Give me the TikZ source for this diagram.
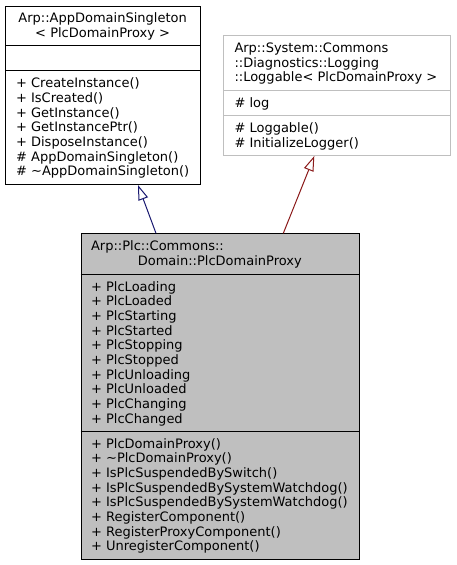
\documentclass[tikz,border=0pt]{standalone}
\usepackage{fontspec}
\setmainfont{DejaVu Sans}
\usetikzlibrary{arrows.meta,calc}
\definecolor{navyedge}{HTML}{191970}
\definecolor{rededge}{HTML}{8B1A1A}
\definecolor{boxgray}{HTML}{BFBFBF}
\definecolor{lightborder}{HTML}{BFBFBF}
\begin{document}
\begin{tikzpicture}[x=1pt,y=-1pt,line width=1pt,
  box/.style={draw,rectangle,inner sep=0pt,anchor=north west,line width=1pt},
  txt/.style={anchor=base west,inner sep=0pt,font=\fontsize{13}{14.7}\selectfont},
  ctxt/.style={anchor=base,inner sep=0pt,font=\fontsize{13}{14.7}\selectfont},
  inherit/.style={-{Triangle[open,fill=white,length=15pt,width=10pt]},line width=1pt}]
\useasboundingbox (0,0) rectangle (456,565);

% Box 1: AppDomainSingleton
\node[box,fill=white,minimum width=194.8pt,minimum height=178.3pt] (single) at (5.2,5.7) {};
\draw (single.west |- 0,45.7) -- (single.east |- 0,45.7);
\draw (single.west |- 0,70.7) -- (single.east |- 0,70.7);
\node[ctxt] (s1) at (102.6,22.7) {Arp::AppDomainSingleton};
\node[ctxt] (s2) at (102.6,37.4) {< PlcDomainProxy >};
\foreach \t [count=\i from 0] in {+ CreateInstance(),+ IsCreated(),+ GetInstance(),+ GetInstancePtr(),+ DisposeInstance(),\# AppDomainSingleton(),\# \textasciitilde AppDomainSingleton()}
  \node[txt] (sm\i) at (15.6,87.6+14.7*\i) {\t};

% Box 2: Loggable
\node[box,draw=lightborder,fill=white,minimum width=227pt,minimum height=119.7pt] (log) at (223.3,35.3) {};
\draw[lightborder] (log.west |- 0,90) -- (log.east |- 0,90);
\draw[lightborder] (log.west |- 0,115.3) -- (log.east |- 0,115.3);
\foreach \t [count=\i from 0] in {Arp::System::Commons,::Diagnostics::Logging,::Loggable< PlcDomainProxy >}
  \node[txt] (lt\i) at (234,52.3+14.7*\i) {\t};
\node[txt] (la0) at (234,107) {\# log};
\foreach \t [count=\i from 0] in {\# Loggable(),\# InitializeLogger()}
  \node[txt] (lm\i) at (234,132.3+14.7*\i) {\t};

% Box 3: PlcDomainProxy
\node[box,fill=boxgray,minimum width=278.3pt,minimum height=325.7pt] (proxy) at (80.7,233.3) {};
\draw (proxy.west |- 0,274) -- (proxy.east |- 0,274);
\draw (proxy.west |- 0,431) -- (proxy.east |- 0,431);
\node[txt] (p1) at (90.6,250.3) {Arp::Plc::Commons::};
\node[ctxt] (p2) at (219.8,265) {Domain::PlcDomainProxy};
\foreach \t [count=\i from 0] in {+ PlcLoading,+ PlcLoaded,+ PlcStarting,+ PlcStarted,+ PlcStopping,+ PlcStopped,+ PlcUnloading,+ PlcUnloaded,+ PlcChanging,+ PlcChanged}
  \node[txt] (pa\i) at (90.6,291+14.7*\i) {\t};
\foreach \t [count=\i from 0] in {+ PlcDomainProxy(),+ ∼PlcDomainProxy(),+ IsPlcSuspendedBySwitch(),+ IsPlcSuspendedBySystemWatchdog(),+ IsPlcSuspendedBySystemWatchdog(),+ RegisterComponent(),+ RegisterProxyComponent(),+ UnregisterComponent()}
  \node[txt] (pm\i) at (90.6,448+14.7*\i) {\t};

% Inheritance connectors
\draw[inherit,navyedge] ([xshift=75.3pt]proxy.north west) -- ([xshift=132.8pt]single.south west);
\draw[inherit,rededge] ([xshift=202.6pt]proxy.north west) -- ([xshift=91pt]log.south west);
\end{tikzpicture}
\end{document}
